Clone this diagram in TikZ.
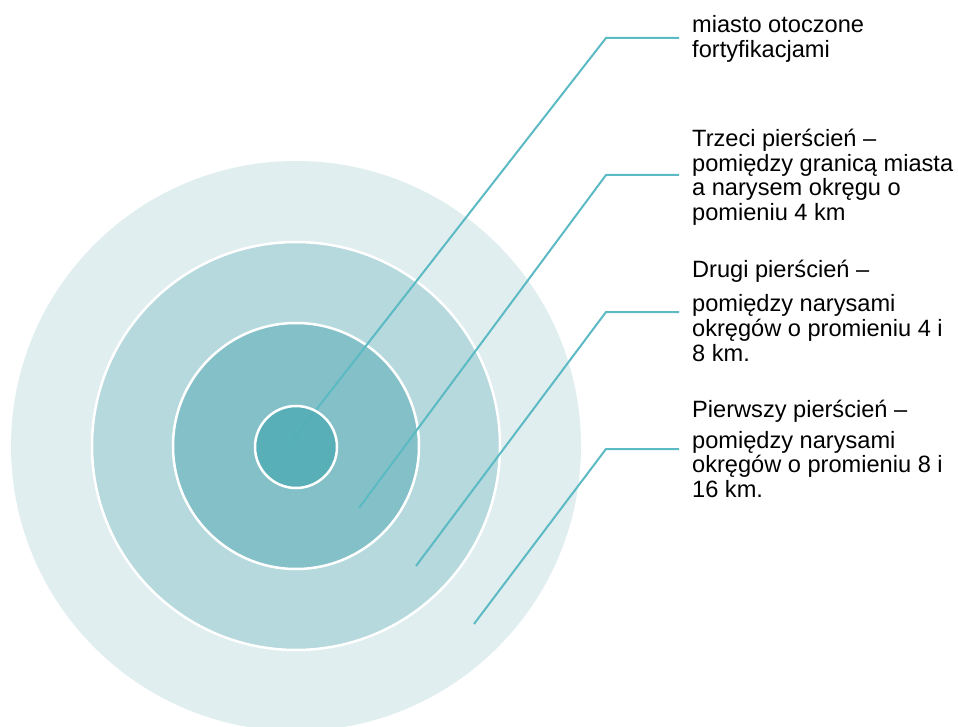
\documentclass[tikz,border=0pt]{standalone}
\usepackage{fontspec}
\setmainfont{Liberation Sans}
\definecolor{ringA}{HTML}{E0EEF0}
\definecolor{ringB}{HTML}{B5D9DD}
\definecolor{ringC}{HTML}{84C0C7}
\definecolor{ringD}{HTML}{52ADB5}
\definecolor{leader}{HTML}{5BBAC3}
\begin{document}
\begin{tikzpicture}[x=1pt,y=-1pt,
  ring/.style={draw=white,line width=2.5pt},
  leaderline/.style={draw=leader,line width=2pt},
  label/.style={anchor=base west,inner sep=0pt,font=\fontsize{23.6}{24.5}\selectfont,text=black}]
\useasboundingbox (0,0) rectangle (958,727);
\coordinate (c) at (296,446);
\fill[ringA] (c) circle[radius=285];
\filldraw[ringB,ring] (c) circle[radius=204];
\filldraw[ringC,ring] (c) circle[radius=123];
% leader lines
\coordinate (p1) at (291,442); \coordinate (b1) at (606,38);  \coordinate (e1) at (679,38);
\coordinate (p2) at (359,508); \coordinate (b2) at (606,175); \coordinate (e2) at (679,175);
\coordinate (p3) at (416,566); \coordinate (b3) at (606,312); \coordinate (e3) at (679,312);
\coordinate (p4) at (474,624); \coordinate (b4) at (606,449); \coordinate (e4) at (679,449);
\draw[leaderline] (p1) -- (b1) -- (e1);
\draw[leaderline] (p2) -- (b2) -- (e2);
\draw[leaderline] (p3) -- (b3) -- (e3);
\draw[leaderline] (p4) -- (b4) -- (e4);
\fill[ringD,fill opacity=0.85] (296,447) circle[radius=41];
\draw[white,line width=2.5pt] (296,447) circle[radius=41];
% labels
\node[label] (t1) at (692,33) {\vtop{\hbox{miasto otoczone}\hbox{fortyfikacjami}}};
\node[label] (t2) at (692,147) {\vtop{\hbox{Trzeci pierścień –}\hbox{pomiędzy granicą miasta}\hbox{a narysem okręgu o}\hbox{pomieniu 4 km}}};
\node[label] (t3) at (692,278) {\vtop{\hbox{Drugi pierścień –}\vskip 9.5pt\hbox{pomiędzy narysami}\hbox{okręgów o promieniu 4 i}\hbox{8 km.}}};
\node[label] (t4) at (692,417) {\vtop{\hbox{Pierwszy pierścień –}\vskip 6.5pt\hbox{pomiędzy narysami}\hbox{okręgów o promieniu 8 i}\hbox{16 km.}}};
\end{tikzpicture}
\end{document}
